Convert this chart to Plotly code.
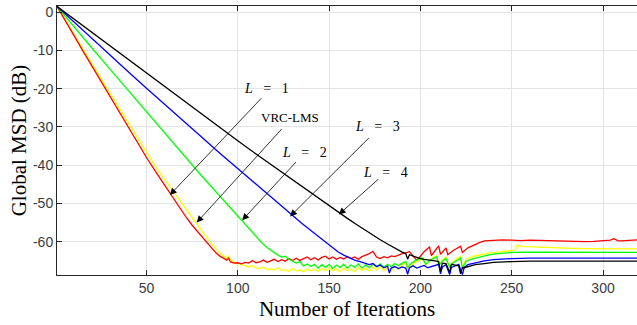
import plotly.graph_objects as go

# Global MSD learning curves (dB) versus iteration index
red_it = [1, 5, 10, 15, 20, 25, 30, 35, 40, 45, 50, 55, 60, 63, 66, 69, 72, 75, 78, 81, 84, 86, 88, 90, 92, 94, 95, 96, 98,
          100, 102, 104, 106, 108, 110, 112, 114, 116, 118, 120, 122, 124, 126, 128, 130, 132, 134, 136, 138, 140, 142,
          144, 146, 148, 150, 152, 154, 156, 158, 160, 162, 164, 166, 168, 170, 172, 174, 176, 178, 180, 182, 184, 186,
          188, 190, 192, 194, 196, 198, 200, 202, 204, 205, 206, 208, 210, 211, 213, 214, 215, 218, 222, 223, 226, 229,
          232, 235, 240, 245, 250, 255, 260, 265, 270, 275, 280, 285, 290, 295, 300, 304, 306, 308, 310, 314, 318, 320]
red_db = [1.5, -1.9, -5.9, -10.0, -14.0, -18.1, -22.1, -26.1, -30.1, -34.1, -38.0, -41.7, -45.3, -47.5, -49.6, -51.8,
          -53.8, -55.7, -57.4, -59.1, -60.7, -61.8, -62.9, -63.7, -64.3, -64.8, -64.3, -65.3, -65.6, -65.5, -65.8, -65.4,
          -65.6, -64.9, -65.5, -65.3, -64.8, -65.4, -65.0, -64.6, -65.2, -64.7, -65.1, -64.4, -64.9, -64.3, -64.9, -64.5,
          -64.0, -64.7, -64.2, -64.8, -64.1, -63.8, -64.5, -64.0, -64.6, -64.1, -64.5, -63.9, -64.4, -64.0, -64.6, -63.9,
          -63.6, -63.1, -62.5, -64.0, -64.4, -63.9, -64.2, -63.7, -63.9, -63.4, -63.1, -62.9, -62.6, -63.8, -64.8, -63.8,
          -62.6, -61.8, -61.4, -63.6, -62.2, -61.1, -63.3, -62.1, -61.6, -63.4, -62.3, -61.2, -62.8, -61.6, -60.9, -60.3,
          -59.8, -59.6, -59.5, -59.6, -59.7, -59.6, -59.6, -59.7, -59.8, -59.9, -59.9, -60.0, -59.9, -59.8, -59.6, -59.2,
          -59.7, -59.8, -59.6, -59.5, -59.5]

yellow_it = [1, 5, 10, 15, 20, 25, 30, 35, 40, 45, 50, 55, 60, 65, 70, 73, 76, 79, 82, 85, 88, 90, 92, 94, 95, 96, 98,
             100, 102, 104, 106, 108, 110, 112, 114, 116, 118, 120, 122, 124, 126, 128, 130, 132, 134, 136, 138, 140,
             142, 144, 146, 148, 150, 152, 154, 156, 158, 160, 162, 164, 166, 168, 170, 172, 174, 176, 178, 180, 182,
             184, 186, 188, 190, 192, 193, 195, 197, 199, 201, 203, 205, 207, 209, 210, 212, 214, 216, 218, 220, 222,
             223, 225, 229, 233, 237, 241, 245, 249, 252, 253, 255, 258, 262, 266, 270, 280, 290, 300, 310, 320]
yellow_db = [1.5, -1.7, -5.6, -9.5, -13.4, -17.3, -21.2, -25.1, -29.0, -32.9, -36.8, -40.4, -43.8, -47.1, -50.3, -52.4,
             -54.5, -56.4, -58.3, -60.1, -61.9, -62.9, -63.7, -64.3, -63.8, -64.8, -65.4, -65.7, -66.1, -66.3, -66.6,
             -66.2, -66.9, -67.0, -66.6, -67.3, -67.1, -67.4, -66.8, -67.5, -67.3, -67.7, -67.0, -67.6, -67.4, -67.9,
             -67.1, -67.6, -67.2, -67.8, -67.0, -67.5, -66.8, -67.6, -67.1, -67.9, -66.9, -67.6, -67.2, -67.8, -66.8,
             -67.5, -66.9, -67.7, -66.7, -67.4, -66.5, -67.6, -66.6, -67.8, -66.4, -67.2, -66.0, -65.6, -67.3, -66.2,
             -65.4, -65.0, -64.4, -66.0, -65.0, -64.1, -63.6, -66.3, -64.8, -64.0, -66.5, -65.2, -64.4, -63.8, -66.8,
             -64.5, -63.8, -63.3, -63.0, -62.8, -62.6, -62.5, -62.2, -60.9, -61.2, -61.3, -61.4, -61.5, -61.6, -61.7,
             -61.8, -61.9, -61.9, -61.9]

green_it = [1, 10, 20, 30, 40, 50, 60, 70, 80, 90, 95, 100, 105, 110, 113, 116, 119, 122, 124, 126, 128, 130, 132, 134,
            136, 138, 140, 142, 144, 146, 148, 150, 152, 154, 156, 158, 160, 162, 164, 166, 168, 170, 172, 174, 176, 178,
            180, 182, 184, 186, 188, 190, 192, 193, 195, 197, 199, 201, 203, 205, 207, 209, 210, 212, 214, 216, 218, 220,
            222, 223, 225, 229, 233, 237, 241, 245, 250, 260, 270, 280, 290, 300, 310, 320]
green_db = [1.5, -3.7, -9.3, -14.9, -20.5, -26.1, -31.7, -37.2, -42.7, -48.0, -50.7, -53.4, -56.1, -58.7, -60.2, -61.5,
            -62.6, -63.5, -64.0, -63.8, -64.6, -65.1, -65.6, -65.2, -66.3, -65.8, -66.5, -65.9, -66.9, -66.0, -66.7,
            -65.9, -67.0, -66.1, -66.8, -65.9, -66.9, -66.1, -66.7, -65.8, -66.9, -66.0, -66.8, -65.9, -66.6, -65.8,
            -66.7, -65.9, -66.5, -65.7, -66.3, -65.6, -65.2, -66.7, -65.6, -65.0, -64.6, -64.2, -65.9, -65.0, -64.4,
            -63.9, -66.3, -65.1, -64.4, -66.6, -65.5, -64.8, -64.3, -66.9, -65.1, -64.4, -63.9, -63.5, -63.2, -63.0,
            -62.8, -62.7, -62.7, -62.7, -62.8, -62.8, -62.8, -62.8]

blue_it = [1, 10, 20, 30, 40, 50, 60, 70, 80, 90, 100, 110, 117, 123, 129, 135, 140, 145, 149, 152, 155, 158, 161, 164,
           167, 170, 172, 174, 176, 178, 180, 182, 183, 184, 186, 188, 190, 192, 193, 194, 196, 198, 200, 202, 204, 206,
           208, 210, 211, 212, 214, 216, 217, 219, 221, 223, 224, 226, 230, 235, 240, 245, 250, 260, 280, 300, 320]
blue_db = [1.5, -2.5, -6.9, -11.3, -15.6, -19.9, -24.2, -28.4, -32.6, -36.8, -40.9, -45.0, -47.9, -50.4, -52.9, -55.2,
           -57.1, -59.0, -60.4, -61.6, -62.7, -63.5, -64.2, -64.8, -65.2, -65.6, -66.0, -65.7, -66.5, -66.1, -66.8,
           -66.4, -68.2, -66.9, -66.5, -67.0, -66.6, -66.9, -68.5, -66.8, -66.3, -66.9, -66.6, -66.2, -66.8, -66.5,
           -66.1, -65.9, -68.4, -66.6, -66.0, -68.6, -66.7, -66.3, -65.9, -68.6, -66.7, -66.0, -65.5, -65.0, -64.7,
           -64.5, -64.4, -64.3, -64.3, -64.3, -64.3]

black_it = [1, 10, 20, 30, 40, 50, 60, 70, 80, 90, 100, 110, 120, 130, 140, 150, 156, 160, 165, 169, 173, 178, 182, 187,
            190, 192, 193, 194, 196, 198, 200, 202, 204, 206, 208, 210, 211, 212, 214, 216, 217, 219, 221, 222, 223, 224,
            226, 230, 235, 240, 250, 260, 280, 300, 320]
black_db = [1.5, -1.7, -5.3, -8.9, -12.4, -16.0, -19.6, -23.1, -26.6, -30.1, -33.6, -37.1, -40.5, -43.9, -47.3, -50.6,
            -52.6, -53.9, -55.5, -56.8, -58.0, -59.5, -60.6, -62.0, -62.7, -63.1, -64.6, -63.4, -63.8, -64.1, -64.4,
            -64.6, -64.7, -64.9, -65.0, -65.2, -67.8, -65.6, -65.7, -68.0, -65.9, -66.1, -66.3, -68.4, -66.8, -66.8,
            -66.5, -66.0, -65.7, -65.4, -65.2, -65.1, -65.1, -65.1, -65.1]

x_ticks = [50, 100, 150, 200, 250, 300]
y_ticks = [0, -10, -20, -30, -40, -50, -60]
y_tick_text = ["0", "-10", "-20", "-30", "-40", "-50", "-60"]

# Curve labels: (label, arrow head, arrow tail, text position)
sp = "\u00a0\u00a0\u00a0"
labels = [
    ("<i>L</i>" + sp + "=" + sp + "1", (62.8, -47.8), (113.7, -22.1), (115.6, -20.0)),
    ("VRC-LMS", (77.5, -55.0), (124.7, -30.2), (128.6, -27.6)),
    ("<i>L</i>" + sp + "=" + sp + "2", (102.4, -54.4), (132.6, -38.8), (136.5, -36.7)),
    ("<i>L</i>" + sp + "=" + sp + "3", (128.6, -53.4), (172.6, -32.5), (176.6, -30.0)),
    ("<i>L</i>" + sp + "=" + sp + "4", (155.3, -52.9), (177.8, -43.3), (181.0, -42.0)),
]

fig = go.Figure()
series = [
    (yellow_it, yellow_db, "#ffff00"),
    (red_it, red_db, "#ff0000"),
    (green_it, green_db, "#00ff00"),
    (blue_it, blue_db, "#0000ff"),
    (black_it, black_db, "#000000"),
]
for xs, ys, col in series:
    fig.add_trace(go.Scatter(x=xs, y=ys, mode="lines", line=dict(color=col, width=1.3),
                             showlegend=False, hoverinfo="skip"))

for text, head, tail, pos in labels:
    fig.add_annotation(x=head[0], y=head[1], ax=tail[0], ay=tail[1], xref="x", yref="y",
                       axref="x", ayref="y", text="", showarrow=True, arrowhead=2,
                       arrowsize=1.7, arrowwidth=0.8, arrowcolor="#000000", standoff=0)
    fig.add_annotation(x=pos[0], y=pos[1], xref="x", yref="y", text=text, showarrow=False,
                       font=dict(family="Liberation Serif", size=14 if "L" in text[:4] else 13,
                                 color="#000000"))

axis_col = "#262626"
fig.update_xaxes(range=[1, 318.6], tickvals=x_ticks, ticks="inside", ticklen=5, tickcolor=axis_col,
                 showline=True, linecolor=axis_col, linewidth=1, mirror="ticks",
                 showgrid=True, gridcolor="#e4e4e4", gridwidth=1, zeroline=False,
                 tickfont=dict(family="Liberation Sans", size=14, color="#3c3c3c"),
                 title=dict(text="Number of Iterations", standoff=6,
                            font=dict(family="Liberation Serif", size=21, color="#000000")))
fig.update_yaxes(range=[-68.7, 1.6], tickvals=y_ticks, ticktext=y_tick_text, ticks="inside", ticklen=5,
                 tickcolor=axis_col, showline=True, linecolor=axis_col, linewidth=1, mirror=False,
                 showgrid=True, gridcolor="#e4e4e4", gridwidth=1, zeroline=False,
                 tickfont=dict(family="Liberation Sans", size=14, color="#3c3c3c"),
                 title=dict(text="Global MSD (dB)", standoff=0,
                            font=dict(family="Liberation Serif", size=21, color="#000000")))

fig.update_layout(width=637, height=325, margin=dict(l=57, r=0, t=6, b=50),
                  plot_bgcolor="#ffffff", paper_bgcolor="#ffffff")

fig.write_html("out.html")
